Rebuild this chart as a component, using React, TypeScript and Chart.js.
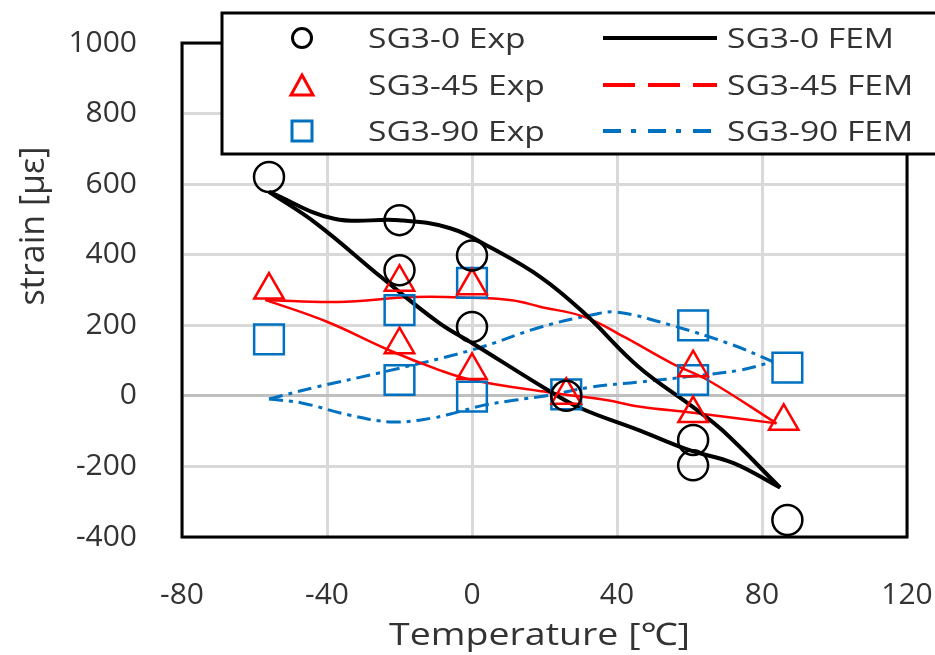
import { useEffect, useRef } from 'react';
import { Chart, registerables } from 'chart.js';

Chart.register(...registerables);

// Axis ranges and tick steps
const tempRange = [-80, 120];
const tempStep = 40;
const strainRange = [-400, 1000];
const strainStep = 200;

// Measured strain (hollow markers)
const exp0Temp = [-56, -20, -20, 0, 0, 26, 61, 61, 87];
const exp0Strain = [620, 498, 356, 398, 195, 0, -125, -197, -352];
const exp45Temp = [-56, -20, -20, 0, 0, 26, 61, 61, 86];
const exp45Strain = [300, 322, 145, 312, 72, 2, 80, -50, -72];
const exp90Temp = [-56, -20, -20, 0, 0, 26, 61, 61, 87];
const exp90Strain = [160, 243, 45, 320, -2, 4, 200, 45, 80];

// FEM hysteresis loops (upper and lower branches)
const fem0UpTemp = [-56, -38, -20, -6, 5, 19, 31, 46, 61, 69, 85];
const fem0UpStrain = [578, 502, 498, 475, 421, 336, 234, 82, -32, -97, -260];
const fem0LowTemp = [-56, -43, -25, -9, 0, 21, 30, 46, 60, 72, 85];
const fem0LowStrain = [578, 489, 336, 206, 150, 16, -35, -97, -154, -190, -260];

const fem45UpTemp = [-57, -37, -16, 0, 11, 19, 31, 42, 55, 65, 84];
const fem45UpStrain = [272, 266, 280, 278, 271, 252, 224, 167, 93, 45, -78];
const fem45LowTemp = [-57, -40, -23, -9, 0, 21, 37, 46, 61, 84];
const fem45LowStrain = [272, 210, 130, 73, 45, 10, -12, -30, -48, -78];

const fem90UpTemp = [-56, -43, -26, 0, 19, 33, 40, 55, 72, 83];
const fem90UpStrain = [-9, 25, 64, 130, 195, 229, 237, 200, 144, 97];
const fem90LowTemp = [-56, -47, -34, -22, -11, -4, 3, 12, 21, 33, 46, 61, 74, 83];
const fem90LowStrain = [-9, -20, -54, -74, -63, -46, -27, -12, 1, 25, 39, 56, 73, 97];

const expLabels = ['SG3-0 Exp', 'SG3-45 Exp', 'SG3-90 Exp'];
const femLabels = ['SG3-0 FEM', 'SG3-45 FEM', 'SG3-90 FEM'];
const seriesColors = ['#000000', '#FF0000', '#0070C0'];

const TEXT_COLOR = '#333333';
const FONT = '"Open Sans", "Noto Sans", sans-serif';

const pts = (xs: number[], ys: number[]) => xs.map((x, i) => ({ x, y: ys[i] }));

function drawStretched(ctx: CanvasRenderingContext2D, text: string, x: number, y: number, sx: number, align: CanvasTextAlign) {
  ctx.save();
  ctx.translate(x, y);
  ctx.scale(sx, 1);
  ctx.textAlign = align;
  ctx.textBaseline = 'alphabetic';
  ctx.fillText(text, 0, 0);
  ctx.restore();
}

const framePlugin = {
  id: 'plotFrame',
  beforeDatasetsDraw(chart: any) {
    const { ctx, chartArea: a } = chart;
    ctx.save();
    ctx.strokeStyle = '#000';
    ctx.lineWidth = 3;
    ctx.strokeRect(a.left, a.top, a.right - a.left, a.bottom - a.top);
    ctx.restore();
  },
  afterDraw(chart: any) {
    const { ctx, chartArea: a } = chart;
    ctx.save();
    ctx.fillStyle = TEXT_COLOR;

    // axis titles
    ctx.font = `31px ${FONT}`;
    drawStretched(ctx, 'Temperature [℃]', (a.left + a.right) / 2 - 5, 645, 1.21, 'center');
    ctx.save();
    ctx.translate(44, 226);
    ctx.rotate(-Math.PI / 2);
    ctx.font = `34px ${FONT}`;
    ctx.textAlign = 'center';
    ctx.textBaseline = 'alphabetic';
    ctx.fillText('strain [με]', 0, 0);
    ctx.restore();

    // legend box
    const boxL = 222, boxT = 13, boxB = 154;
    ctx.fillStyle = '#fff';
    ctx.fillRect(boxL, boxT, chart.width - boxL + 10, boxB - boxT);
    ctx.strokeStyle = '#000';
    ctx.lineWidth = 3;
    ctx.strokeRect(boxL, boxT, chart.width - boxL + 10, boxB - boxT);

    const rows = [38, 85, 131];
    const mx = 302;
    ctx.lineWidth = 3;
    // markers
    ctx.strokeStyle = seriesColors[0];
    ctx.beginPath();
    ctx.arc(mx, rows[0], 9.5, 0, Math.PI * 2);
    ctx.stroke();
    ctx.strokeStyle = seriesColors[1];
    ctx.beginPath();
    ctx.moveTo(mx, rows[1] - 10);
    ctx.lineTo(mx + 11, rows[1] + 10);
    ctx.lineTo(mx - 11, rows[1] + 10);
    ctx.closePath();
    ctx.stroke();
    ctx.strokeStyle = seriesColors[2];
    ctx.strokeRect(mx - 10, rows[2] - 10, 20, 20);

    // line samples
    const dashes = [[], [32, 13], [18, 10, 5, 12]];
    ctx.lineWidth = 4;
    rows.forEach((ry, i) => {
      ctx.strokeStyle = seriesColors[i];
      ctx.setLineDash(dashes[i]);
      ctx.beginPath();
      ctx.moveTo(603, ry);
      ctx.lineTo(717, ry);
      ctx.stroke();
    });
    ctx.setLineDash([]);

    // legend text
    ctx.fillStyle = TEXT_COLOR;
    ctx.font = `28px ${FONT}`;
    rows.forEach((ry, i) => {
      drawStretched(ctx, expLabels[i], 368, ry + 10, 1.2, 'left');
      drawStretched(ctx, femLabels[i], 727, ry + 10, 1.2, 'left');
    });
    ctx.restore();
  },
};

export default function App() {
  const ref = useRef<HTMLCanvasElement | null>(null);

  useEffect(() => {
    if (!ref.current) return;
    const expStyles = ['circle', 'triangle', 'rect'];
    const expRadius = [15, 17, 21];
    const expSets = [
      pts(exp0Temp, exp0Strain),
      pts(exp45Temp, exp45Strain),
      pts(exp90Temp, exp90Strain),
    ].map((data, i) => ({
      label: expLabels[i],
      data,
      showLine: false,
      pointStyle: expStyles[i],
      pointRadius: expRadius[i],
      pointBorderWidth: 2.5,
      pointBorderColor: seriesColors[i],
      pointBackgroundColor: 'rgba(0,0,0,0)',
      clip: false,
    }));

    const femWidths = [4, 2.5, 3];
    const femDash = [[], [], [14, 6, 4, 6]];
    const femBranches = [
      [pts(fem0UpTemp, fem0UpStrain), pts(fem0LowTemp, fem0LowStrain)],
      [pts(fem45UpTemp, fem45UpStrain), pts(fem45LowTemp, fem45LowStrain)],
      [pts(fem90UpTemp, fem90UpStrain), pts(fem90LowTemp, fem90LowStrain)],
    ];
    const femSets: any[] = [];
    femBranches.forEach((branches, i) => {
      branches.forEach((data) => {
        femSets.push({
          label: femLabels[i],
          data,
          showLine: true,
          borderColor: seriesColors[i],
          borderWidth: femWidths[i],
          borderDash: femDash[i],
          pointRadius: 0,
          tension: 0.4,
          fill: false,
          clip: false,
        });
      });
    });

    const noEdgePadding = (s: any) => {
      s.paddingTop = 0;
      s.paddingBottom = 0;
      s.paddingLeft = 0;
      s.paddingRight = 0;
    };

    const chart = new Chart(ref.current, {
      type: 'scatter',
      data: { datasets: [...expSets, ...femSets] as any },
      options: {
        animation: false,
        responsive: false,
        devicePixelRatio: 1,
        layout: { padding: { left: 0, right: 28, top: 43, bottom: 0 } },
        plugins: {
          legend: { display: false },
          tooltip: { enabled: false },
        },
        scales: {
          x: {
            type: 'linear',
            min: tempRange[0],
            max: tempRange[1],
            afterFit: (s: any) => { s.height = 118; noEdgePadding(s); },
            ticks: {
              stepSize: tempStep,
              padding: 40,
              color: TEXT_COLOR,
              font: { family: FONT, size: 30 },
              maxRotation: 0,
              callback: (v: any) => String(v),
            },
            grid: { color: '#D9D9D9', lineWidth: 3, drawTicks: false },
            border: { display: false },
          },
          y: {
            type: 'linear',
            min: strainRange[0],
            max: strainRange[1],
            afterFit: (s: any) => { s.width = 182; noEdgePadding(s); },
            ticks: {
              stepSize: strainStep,
              padding: 45,
              color: TEXT_COLOR,
              font: { family: FONT, size: 30 },
              callback: (v: any) => String(v),
            },
            grid: {
              color: (c: any) => (c.tick && c.tick.value === 0 ? '#BFBFBF' : '#D9D9D9'),
              lineWidth: 3,
              drawTicks: false,
            },
            border: { display: false },
          },
        },
      },
      plugins: [framePlugin],
    });
    return () => chart.destroy();
  }, []);

  return (
    <div style={{ position: 'absolute', left: 0, top: 0, width: 935, height: 655, background: '#fff' }}>
      <canvas ref={ref} width={935} height={655} />
    </div>
  );
}
